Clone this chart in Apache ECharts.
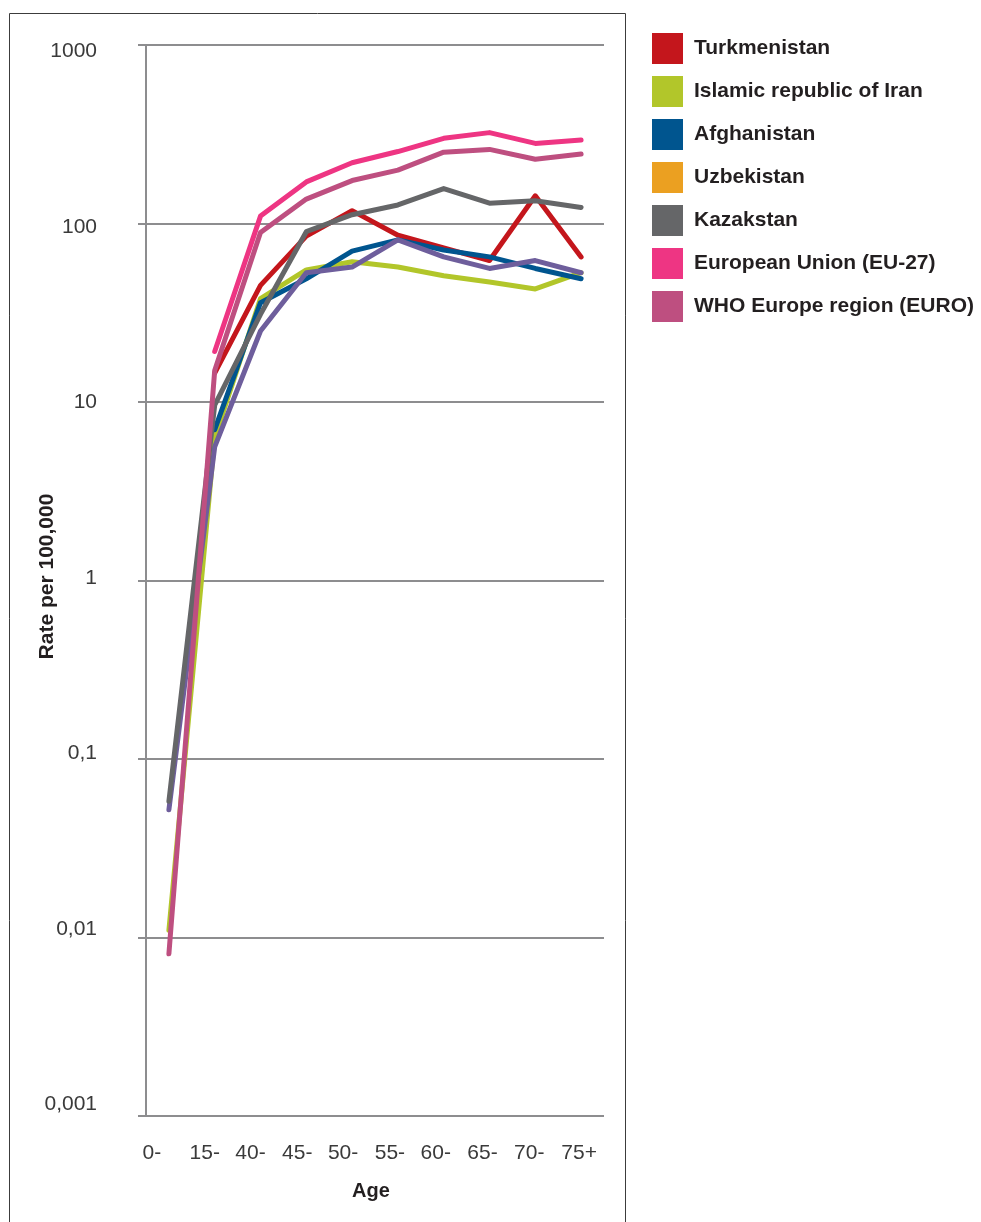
<!DOCTYPE html>
<html>
<head>
<meta charset="utf-8">
<script src="https://cdn.jsdelivr.net/npm/echarts@6/dist/echarts.min.js"></script>
<style>
  html, body { margin: 0; padding: 0; background: #ffffff; }
  #chart { width: 981px; height: 1222px; }
</style>
</head>
<body>
<div id="chart"></div>
<script>
// Age groups on the x axis
const ageGroups = ['0-', '15-', '40-', '45-', '50-', '55-', '60-', '65-', '70-', '75+'];

// Rate per 100,000 by age group (null = no value for that group)
const turkmenistan = [null, 14.5, 45, 85, 118, 86, 73, 62, 143, 65];
const iran         = [0.011, 6.3, 38, 55, 61, 57, 51, 47, 43, 53];
const afghanistan  = [null, 7.0, 36, 49, 70, 81, 71, 65, 56, 49];
const uzbekistan   = [0.052, 5.6, 25, 53, 57, 81, 65, 56, 62, 53];
const kazakstan    = [0.058, 9.6, 31, 90, 112, 127, 157, 130, 134, 123];
const eu27         = [null, 19.2, 110, 171, 219, 253, 300, 323, 281, 294];
const euroRegion   = [0.0081, 15, 89, 137, 174, 199, 251, 260, 229, 245];

// Log-axis tick labels, from 10^-3 up to 10^3
const yTickLabels = ['0,001', '0,01', '0,1', '1', '10', '100', '1000'];

const seriesDefs = [
  { name: 'Turkmenistan',               data: turkmenistan, key: '#C4161C', line: '#C4161C' },
  { name: 'Islamic republic of Iran',   data: iran,         key: '#B2C62A', line: '#B2C62A' },
  { name: 'Afghanistan',                data: afghanistan,  key: '#00558F', line: '#00558F' },
  { name: 'Uzbekistan',                 data: uzbekistan,   key: '#EBA021', line: '#6E5E9C' },
  { name: 'Kazakstan',                  data: kazakstan,    key: '#656668', line: '#656668' },
  { name: 'European Union (EU-27)',     data: eu27,         key: '#EE3583', line: '#EE3583' },
  { name: 'WHO Europe region (EURO)',   data: euroRegion,   key: '#BE4F80', line: '#BE4F80' }
];

const axisFont = "'Liberation Sans', 'Arial', sans-serif";
const boldFont = "'Liberation Sans', 'Arial', sans-serif";
const gridGrey = '#8D8D8F';
const tickText = '#3A3A3A';

// Small per-label nudges so the tick text sits where it is typeset
const xLabelShift = [-17, -10, -10, -9, -9, -8, -8, -7, -6, -2];
const xRich = {};
xLabelShift.forEach((d, i) => {
  xRich['x' + i] = {
    fontFamily: axisFont, fontSize: 21, color: tickText,
    padding: [0, Math.max(0, -2 * d), 0, Math.max(0, 2 * d)]
  };
});
const yRich = {};
for (let i = 0; i < 7; i++) {
  const d = 6.3 - (6 - i) * 2.95;
  yRich['y' + i] = {
    fontFamily: axisFont, fontSize: 21, color: tickText,
    padding: [Math.max(0, 2 * d), 0, Math.max(0, -2 * d), 0]
  };
}

const chart = echarts.init(document.getElementById('chart'), null, { renderer: 'canvas' });

chart.setOption({
  animation: false,
  backgroundColor: '#ffffff',
  graphic: [{
    type: 'rect',
    silent: true,
    shape: { x: 9.5, y: 13.5, width: 616, height: 1300 },
    style: { fill: 'none', stroke: '#3C3C3C', lineWidth: 1 }
  }],
  grid: { left: 146, right: 377, top: 45, bottom: 106, containLabel: false },
  legend: {
    orient: 'vertical',
    left: 652,
    top: 33,
    icon: 'rect',
    itemWidth: 31,
    itemHeight: 31,
    itemGap: 12,
    padding: 0,
    selectedMode: false,
    textStyle: { fontFamily: boldFont, fontWeight: 'bold', fontSize: 21, color: '#231F20', padding: [0, 0, 0, 6] },
    data: seriesDefs.map(s => ({ name: s.name, itemStyle: { color: s.key, borderWidth: 0 } }))
  },
  xAxis: {
    type: 'category',
    data: ageGroups,
    boundaryGap: true,
    name: 'Age',
    nameLocation: 'middle',
    nameGap: 65,
    nameMoveOverlap: false,
    nameTextStyle: { fontFamily: boldFont, fontWeight: 'bold', fontSize: 20, color: '#231F20', padding: [0, 8, 0, 0] },
    axisLine: { show: false },
    axisTick: { show: false },
    axisLabel: {
      margin: 27,
      interval: 0,
      formatter: (v, i) => '{x' + i + '|' + v + '}',
      rich: xRich
    },
    splitLine: { show: false }
  },
  yAxis: {
    type: 'log',
    logBase: 10,
    min: 0.001,
    max: 1000,
    name: 'Rate per 100,000',
    nameLocation: 'middle',
    nameRotate: 90,
    nameGap: 88,
    nameMoveOverlap: false,
    nameTextStyle: { fontFamily: boldFont, fontWeight: 'bold', fontSize: 21, color: '#231F20', padding: [0, 0, 0, 8] },
    axisLine: { show: true, lineStyle: { color: gridGrey, width: 2 } },
    axisTick: { show: true, length: 8, lineStyle: { color: gridGrey, width: 2 } },
    minorTick: { show: false },
    axisLabel: {
      margin: 49,
      formatter: (v) => {
        const i = Math.round(Math.log10(v)) + 3;
        return '{y' + i + '|' + yTickLabels[i] + '}';
      },
      rich: yRich
    },
    splitLine: { show: true, lineStyle: { color: gridGrey, width: 2 } }
  },
  series: seriesDefs.map(s => ({
    name: s.name,
    type: 'line',
    data: s.data,
    symbol: 'none',
    smooth: false,
    connectNulls: false,
    itemStyle: { color: s.key },
    lineStyle: { color: s.line, width: 5, cap: 'round', join: 'round' },
    emphasis: { disabled: true }
  }))
});
</script>
</body>
</html>
